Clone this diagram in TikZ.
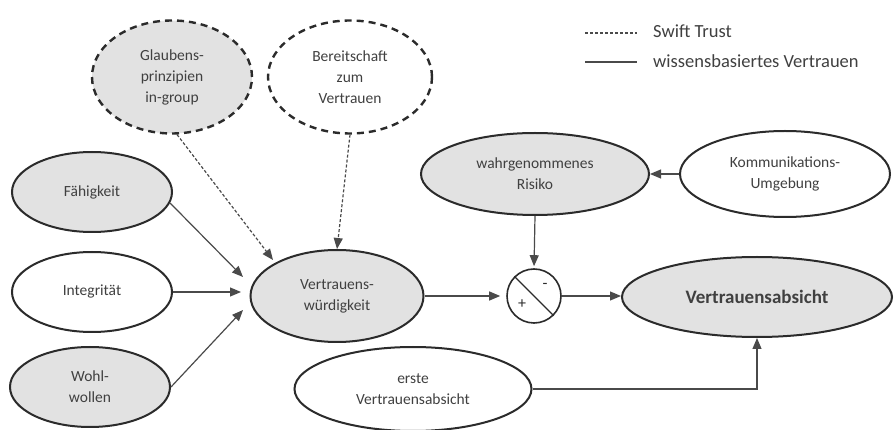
\documentclass[tikz,border=0pt]{standalone}
\usepackage{fontspec}
\setmainfont{Carlito}
\usetikzlibrary{shapes.geometric,arrows.meta}
\definecolor{fillgray}{HTML}{E2E2E2}
\definecolor{txt}{HTML}{404040}
\definecolor{edge}{HTML}{2B2B2B}
\definecolor{arr}{HTML}{4A4A4A}
\begin{document}
\begin{tikzpicture}[x=1pt,y=-1pt,
  ell/.style={ellipse,draw=edge,line width=2pt,inner sep=0pt,align=center,text=txt,font=\fontsize{15.5}{21}\selectfont},
  shaded/.style={fill=fillgray},
  dashell/.style={dash pattern=on 7pt off 5pt,line width=2.4pt},
  con/.style={draw=arr,line width=1.2pt,-{Triangle[length=11pt,width=9pt]}},
  swift/.style={con,dash pattern=on 3pt off 2pt},
  legtext/.style={anchor=west,inner sep=0pt,text=txt,font=\fontsize{18.5}{22}\selectfont},
  sign/.style={inner sep=0pt,text=edge,font=\fontsize{16}{16}\selectfont}
]
\useasboundingbox (0,0) rectangle (895,430);

% upper dashed ellipses
\node[ell,shaded,dashell,minimum width=160pt,minimum height=113pt] (G) at (172,77) {Glaubens-\\prinzipien\\in-group};
\node[ell,dashell,minimum width=164pt,minimum height=113pt] (B) at (350,77) {Bereitschaft\\zum\\Vertrauen};

% left ellipses
\node[ell,shaded,minimum width=160pt,minimum height=80pt] (F) at (92,192) {Fähigkeit};
\node[ell,minimum width=160pt,minimum height=80pt] (I) at (92,292) {Integrität};
\node[ell,shaded,minimum width=160pt,minimum height=80pt] (W) at (90,387) {Wohl-\\wollen};

% centre
\node[ell,shaded,minimum width=173pt,minimum height=92pt] (V) at (337,296) {Vertrauens-\\würdigkeit};
\node[ell,shaded,minimum width=228pt,minimum height=82pt] (R) at (535,174) {wahrgenommenes\\Risiko};
\node[ell,minimum width=210pt,minimum height=86pt] (K) at (785,174) {Kommunikations-\\Umgebung};
\node[ell,shaded,minimum width=270pt,minimum height=80pt,font=\fontsize{19}{22}\selectfont\bfseries] (A) at (757,297) {Vertrauensabsicht};
\node[ell,minimum width=237pt,minimum height=84pt] (E) at (413,389) {erste\\Vertrauensabsicht};

% combination circle
\node[circle,draw=edge,line width=1.6pt,minimum size=54pt,inner sep=0pt] (C) at (534,296) {};
\draw[edge,line width=1.2pt] (C.135) -- (C.-45);
\node[sign] (minus) at (545,286) {-};
\node[sign] (plus) at (522,304) {+};

% free ends of converging arrows
\coordinate (tF) at (243,277);
\coordinate (tI) at (241,292);
\coordinate (tW) at (243,310);
\coordinate (tG) at (273,260);

% connectors
\draw[con] (F.-8) -- (tF);
\draw[con] (I.east) -- (tI);
\draw[con] (W.east) -- (tW);
\draw[swift] (G.-85) -- (tG);
\draw[swift] (B.south) -- (V.north);
\draw[con,shorten >=6pt] (V.east) -- (C.west);
\draw[con,shorten >=2pt] (R.south) -- (C.north);
\draw[con] (C.east) -- (C.east -| A.west);
\draw[con] (K.west) -- (R.east);
\draw[con] (E.east) -| (A.south);

% legend
\coordinate (l1a) at (585,33);
\coordinate (l1b) at (637,33);
\coordinate (l2a) at (585,62);
\coordinate (l2b) at (637,62);
\draw[arr,line width=1.2pt,dash pattern=on 3pt off 2pt] (l1a) -- (l1b);
\draw[arr,line width=1.4pt] (l2a) -- (l2b);
\node[legtext] (leg1) at (653,31) {Swift Trust};
\node[legtext] (leg2) at (653,61) {wissensbasiertes Vertrauen};
\end{tikzpicture}
\end{document}
